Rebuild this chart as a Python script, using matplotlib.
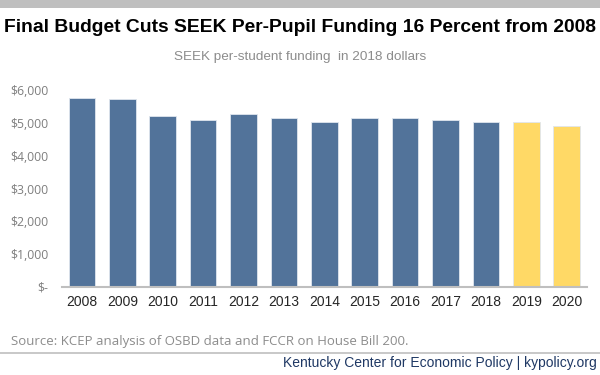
import matplotlib.pyplot as plt
from matplotlib.ticker import FuncFormatter
from matplotlib.lines import Line2D
from matplotlib.patches import Rectangle

years = ['2008', '2009', '2010', '2011', '2012', '2013', '2014',
         '2015', '2016', '2017', '2018', '2019', '2020']
funding = [5760, 5755, 5210, 5100, 5290, 5150, 5050,
           5175, 5175, 5110, 5035, 5030, 4910]
projected = [False] * 11 + [True] * 2

blue = '#52739a'
yellow = '#ffd966'

plt.rcParams['font.family'] = ['Liberation Sans', 'DejaVu Sans']

fig = plt.figure(figsize=(6, 3.75), dpi=100)

# gray band on top
fig.patches.append(Rectangle((0, 1 - 8 / 375), 1, 8 / 375, transform=fig.transFigure,
                             facecolor='#bfbfbf', edgecolor='none'))

ax = fig.add_axes([0.103, 0.2347, 0.875, 0.524])
colors = [yellow if p else blue for p in projected]
x = range(len(years))
ax.bar(x, funding, width=0.66, color=colors, edgecolor='#dfe6ee', linewidth=0.6)

ax.set_xlim(-0.5, len(years) - 0.5)
ax.set_ylim(0, 6000)
ax.set_yticks(range(0, 6001, 1000))
ax.set_xticks(list(x))
ax.set_xticklabels(years)

def money(v, pos):
    if v == 0:
        return '$-'
    return '${:,.0f}'.format(v)

ax.yaxis.set_major_formatter(FuncFormatter(money))
ax.tick_params(axis='y', length=0, labelsize=8.8, labelcolor='#7f7f7f', pad=9.5)
for lab in ax.get_yticklabels():
    lab.set_family(['Open Sans', 'DejaVu Sans'])
ax.tick_params(axis='x', length=0, labelsize=10, labelcolor='#262626', pad=6)
for s in ['top', 'right', 'left']:
    ax.spines[s].set_visible(False)
ax.spines['bottom'].set_color('#bfbfbf')
ax.spines['bottom'].set_linewidth(1.5)

fig.text(0.5, 1 - 27 / 375, 'Final Budget Cuts SEEK Per-Pupil Funding 16 Percent from 2008',
         ha='center', va='center', fontsize=13.9, fontweight='bold', color='black')
fig.text(0.5, 1 - 57 / 375, 'SEEK per-student funding  in 2018 dollars',
         ha='center', va='center', fontsize=9.7, color='#8c8c8c')
fig.text(11 / 600, 1 - 341 / 375, 'Source: KCEP analysis of OSBD data and FCCR on House Bill 200.',
         ha='left', va='center', fontsize=9.5, color='#8c8c8c',
         family=['Open Sans', 'DejaVu Sans'])
fig.lines.append(Line2D([0, 1], [1 - 352.5 / 375] * 2, transform=fig.transFigure,
                        color='#bfbfbf', linewidth=1.2))
fig.text(597 / 600, 1 - 363 / 375, 'Kentucky Center for Economic Policy | kypolicy.org',
         ha='right', va='center', fontsize=10, color='#1f3864')

fig.savefig('out.png', dpi=100)
